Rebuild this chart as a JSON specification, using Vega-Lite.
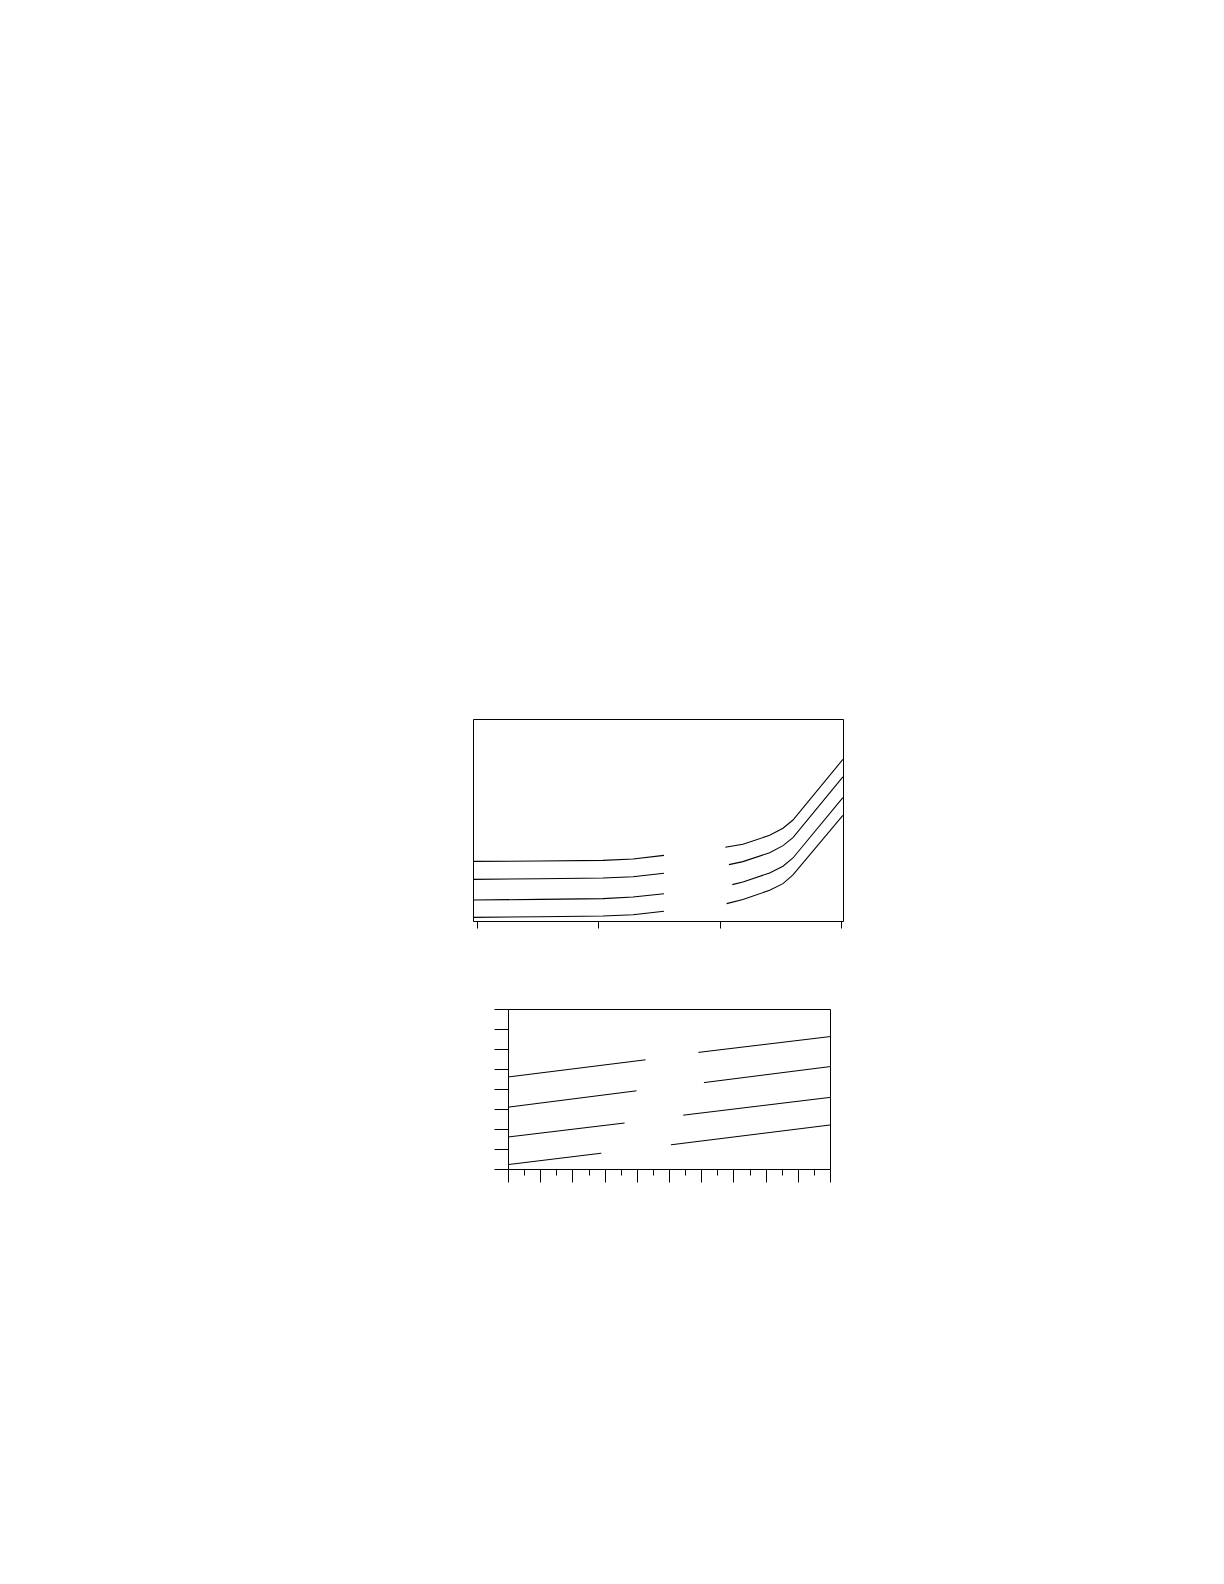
{
  "$schema": "https://vega.github.io/schema/vega-lite/v6.json",
  "description": "Two unlabeled line panels, each with four series broken by a gap in the middle.",
  "padding": {"left": 470, "top": 718, "right": 0, "bottom": 0},
  "background": "white",
  "config": {
    "view": {"stroke": "black", "strokeWidth": 1},
    "axis": {"domain": false, "labels": false, "title": null, "grid": false, "tickColor": "black", "tickWidth": 1}
  },
  "datasets": {
    "upper": [
      {"segment": "A-left", "x": -0.033, "y": 29.5},
      {"segment": "A-left", "x": 0.52, "y": 29.7},
      {"segment": "A-left", "x": 1.037, "y": 30.0},
      {"segment": "A-left", "x": 1.284, "y": 30.7},
      {"segment": "A-left", "x": 1.539, "y": 32.5},
      {"segment": "B-left", "x": -0.033, "y": 20.6},
      {"segment": "B-left", "x": 0.52, "y": 20.9},
      {"segment": "B-left", "x": 1.037, "y": 21.3},
      {"segment": "B-left", "x": 1.284, "y": 21.9},
      {"segment": "B-left", "x": 1.539, "y": 23.6},
      {"segment": "C-left", "x": -0.033, "y": 10.4},
      {"segment": "C-left", "x": 0.52, "y": 10.7},
      {"segment": "C-left", "x": 1.037, "y": 11.1},
      {"segment": "C-left", "x": 1.284, "y": 11.9},
      {"segment": "C-left", "x": 1.539, "y": 13.5},
      {"segment": "D-left", "x": -0.033, "y": 1.8},
      {"segment": "D-left", "x": 0.52, "y": 2.1},
      {"segment": "D-left", "x": 1.037, "y": 2.5},
      {"segment": "D-left", "x": 1.284, "y": 3.1},
      {"segment": "D-left", "x": 1.539, "y": 4.8},
      {"segment": "A-right", "x": 2.044, "y": 36.5},
      {"segment": "A-right", "x": 2.189, "y": 38.0},
      {"segment": "A-right", "x": 2.409, "y": 42.4},
      {"segment": "A-right", "x": 2.519, "y": 45.9},
      {"segment": "A-right", "x": 2.601, "y": 50.0},
      {"segment": "A-right", "x": 3.012, "y": 80.0},
      {"segment": "B-right", "x": 2.074, "y": 27.9},
      {"segment": "B-right", "x": 2.189, "y": 29.4},
      {"segment": "B-right", "x": 2.409, "y": 33.8},
      {"segment": "B-right", "x": 2.519, "y": 37.3},
      {"segment": "B-right", "x": 2.601, "y": 41.3},
      {"segment": "B-right", "x": 3.012, "y": 71.3},
      {"segment": "C-right", "x": 2.102, "y": 18.0},
      {"segment": "C-right", "x": 2.189, "y": 19.3},
      {"segment": "C-right", "x": 2.409, "y": 23.8},
      {"segment": "C-right", "x": 2.519, "y": 27.1},
      {"segment": "C-right", "x": 2.601, "y": 31.2},
      {"segment": "C-right", "x": 3.012, "y": 61.1},
      {"segment": "D-right", "x": 2.055, "y": 8.6},
      {"segment": "D-right", "x": 2.189, "y": 10.6},
      {"segment": "D-right", "x": 2.409, "y": 15.2},
      {"segment": "D-right", "x": 2.519, "y": 18.5},
      {"segment": "D-right", "x": 2.601, "y": 22.8},
      {"segment": "D-right", "x": 3.012, "y": 52.3}
    ],
    "lower": [
      {"segment": "1-left", "x": 0, "y": 4.60},
      {"segment": "1-left", "x": 8.54, "y": 5.46},
      {"segment": "2-left", "x": 0, "y": 3.09},
      {"segment": "2-left", "x": 7.98, "y": 3.91},
      {"segment": "3-left", "x": 0, "y": 1.60},
      {"segment": "3-left", "x": 7.24, "y": 2.30},
      {"segment": "4-left", "x": 0, "y": 0.22},
      {"segment": "4-left", "x": 5.80, "y": 0.79},
      {"segment": "1-right", "x": 11.82, "y": 5.83},
      {"segment": "1-right", "x": 20, "y": 6.62},
      {"segment": "2-right", "x": 12.17, "y": 4.32},
      {"segment": "2-right", "x": 20, "y": 5.12},
      {"segment": "3-right", "x": 10.88, "y": 2.69},
      {"segment": "3-right", "x": 20, "y": 3.58},
      {"segment": "4-right", "x": 10.12, "y": 1.21},
      {"segment": "4-right", "x": 20, "y": 2.20}
    ]
  },
  "spacing": 79,
  "vconcat": [
    {
      "width": 370,
      "height": 202,
      "data": {"name": "upper"},
      "mark": {"type": "line", "color": "black", "strokeWidth": 1.1},
      "encoding": {
        "x": {
          "field": "x",
          "type": "quantitative",
          "scale": {"domain": [-0.033, 3.013], "nice": false, "zero": false},
          "axis": {"values": [0, 1, 2, 3], "tickSize": 7}
        },
        "y": {
          "field": "y",
          "type": "quantitative",
          "scale": {"domain": [0, 100], "nice": false},
          "axis": null
        },
        "detail": {"field": "segment"}
      }
    },
    {
      "spacing": 0,
      "hconcat": [
        {
          "width": 20,
          "height": 160,
          "view": {"stroke": null},
          "data": {"values": []},
          "mark": "point"
        },
        {
          "width": 322,
          "height": 160,
          "data": {"name": "lower"},
          "mark": {"type": "line", "color": "black", "strokeWidth": 1},
          "encoding": {
            "x": {
              "field": "x",
              "type": "quantitative",
              "scale": {"domain": [0, 20], "nice": false},
              "axis": {
                "values": [0, 1, 2, 3, 4, 5, 6, 7, 8, 9, 10, 11, 12, 13, 14, 15, 16, 17, 18, 19, 20],
                "tickSize": {"condition": {"test": "datum.value % 2 === 0", "value": 13}, "value": 6}
              }
            },
            "y": {
              "field": "y",
              "type": "quantitative",
              "scale": {"domain": [0, 8], "nice": false},
              "axis": {"values": [0, 1, 2, 3, 4, 5, 6, 7, 8], "tickSize": 14}
            },
            "detail": {"field": "segment"}
          }
        }
      ]
    }
  ]
}
